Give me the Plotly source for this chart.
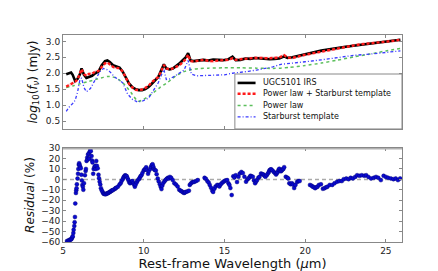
import plotly.graph_objects as go

# ---------------- data ----------------
obs_lam = [5.2, 5.35, 5.5, 5.6, 5.75, 5.9, 6.05, 6.15, 6.3, 6.45, 6.6, 6.8, 7.0, 7.2, 7.4, 7.6, 7.75, 7.9,
           8.1, 8.3, 8.5, 8.7, 8.9, 9.1, 9.3, 9.5, 9.7, 9.9, 10.1, 10.3, 10.5, 10.7, 10.9, 11.05, 11.25,
           11.4, 11.6, 11.8, 12.0, 12.2, 12.4, 12.6, 12.75, 12.9, 13.1, 13.4, 13.7, 14.0, 14.3, 14.6,
           14.9, 15.2, 15.5, 15.7, 16.0, 16.3, 16.6, 16.9, 17.2, 17.5, 17.8, 18.1, 18.4, 18.7, 18.9,
           19.2, 19.6, 20.0, 20.5, 21.0, 21.5, 22.0, 22.5, 23.0, 23.5, 24.0, 24.5, 25.0, 25.5, 25.9]
obs_flux = [1.97, 2.00, 2.02, 1.95, 1.76, 1.82, 1.97, 2.15, 1.95, 1.85, 1.88, 1.92, 2.00, 2.05, 2.25,
            2.38, 2.40, 2.35, 2.25, 2.21, 2.18, 2.05, 1.85, 1.67, 1.56, 1.50, 1.47, 1.47, 1.50, 1.57,
            1.67, 1.76, 1.88, 2.05, 2.28, 2.15, 2.12, 2.15, 2.22, 2.30, 2.40, 2.50, 2.63, 2.40, 2.38,
            2.40, 2.42, 2.40, 2.43, 2.42, 2.41, 2.43, 2.52, 2.41, 2.42, 2.46, 2.45, 2.48, 2.46, 2.45,
            2.44, 2.45, 2.46, 2.53, 2.48, 2.50, 2.55, 2.60, 2.66, 2.71, 2.75, 2.80, 2.83, 2.86, 2.89,
            2.92, 2.95, 2.98, 3.02, 3.05]

model_lam = obs_lam
model_flux = [1.58, 1.62, 1.65, 1.68, 1.73, 1.80, 2.01, 2.13, 1.97, 1.92, 1.98, 1.98, 2.05, 2.07, 2.20,
              2.31, 2.34, 2.29, 2.20, 2.17, 2.16, 2.05, 1.86, 1.66, 1.55, 1.48, 1.47, 1.49, 1.54, 1.60,
              1.72, 1.80, 1.88, 2.03, 2.26, 2.15, 2.12, 2.15, 2.20, 2.25, 2.34, 2.44, 2.58, 2.38, 2.37,
              2.40, 2.42, 2.39, 2.38, 2.40, 2.40, 2.42, 2.47, 2.42, 2.44, 2.46, 2.46, 2.48, 2.48, 2.47,
              2.47, 2.48, 2.49, 2.57, 2.49, 2.48, 2.54, 2.58, 2.63, 2.68, 2.73, 2.79, 2.83, 2.87, 2.91,
              2.93, 2.96, 2.99, 3.02, 3.05]
model_err = 0.05  # half-width of the pink uncertainty band (dex)

pl_lam = [5.2, 5.6, 6.0, 6.5, 7.0, 7.5, 7.8, 8.3, 8.8, 9.2, 9.65, 10.0, 10.5, 11.0, 11.5, 12.0, 12.5,
          13.0, 13.5, 14.0, 15.0, 16.0, 17.0, 18.0, 18.5, 19.0, 20.0, 21.0, 22.0, 23.0, 24.0, 25.0, 25.9]
pl_flux = [1.55, 1.60, 1.66, 1.73, 1.80, 1.87, 1.90, 1.85, 1.65, 1.40, 1.12, 1.18, 1.35, 1.55, 1.72,
           1.92, 2.05, 2.12, 2.15, 2.16, 2.17, 2.17, 2.16, 2.15, 2.16, 2.18, 2.24, 2.32, 2.41, 2.51,
           2.60, 2.70, 2.78]

sb_lam = [5.2, 5.4, 5.6, 5.75, 5.9, 6.05, 6.15, 6.3, 6.45, 6.7, 7.0, 7.3, 7.5, 7.7, 7.9, 8.2, 8.5, 8.7,
          9.0, 9.3, 9.6, 9.9, 10.3, 10.6, 10.9, 11.1, 11.25, 11.4, 11.6, 11.9, 12.2, 12.5, 12.75, 12.95,
          13.3, 14.0, 14.5, 15.0, 15.5, 16.0, 16.5, 17.0, 17.5, 18.0, 18.5, 19.0, 20.0, 21.0, 22.0,
          23.0, 24.0, 25.0, 25.9]
sb_flux = [0.80, 0.95, 1.05, 1.15, 1.40, 1.80, 1.85, 1.55, 1.42, 1.52, 1.80, 2.05, 2.15, 2.12, 2.05,
           1.88, 1.78, 1.70, 1.35, 1.18, 1.10, 1.12, 1.22, 1.45, 1.70, 1.95, 2.12, 1.80, 1.82, 1.90,
           2.00, 2.10, 2.40, 1.97, 1.92, 1.93, 1.93, 1.95, 2.00, 2.02, 2.06, 2.10, 2.15, 2.20, 2.28,
           2.30, 2.36, 2.42, 2.50, 2.56, 2.60, 2.65, 2.70]

res_lam = [5.25, 5.30, 5.35, 5.40, 5.45, 5.50, 5.53, 5.58, 5.60, 5.64, 5.66, 5.70, 5.72, 5.74, 5.76,
           5.80, 5.82, 5.84, 5.86, 5.90, 5.93, 5.95, 5.98, 6.00, 6.03, 6.07, 6.10, 6.14, 6.17, 6.20,
           6.23, 6.26, 6.30, 6.36, 6.40, 6.42, 6.46, 6.50, 6.53, 6.55, 6.60, 6.63, 6.67, 6.70, 6.72,
           6.77, 6.80, 6.83, 6.87, 6.90, 6.95, 7.00, 7.03, 7.06, 7.10, 7.15, 7.20, 7.23, 7.27, 7.31,
           7.35, 7.40, 7.45, 7.50, 7.55, 7.60, 7.65, 7.70, 7.75, 7.80, 7.85, 7.90, 7.95, 8.00, 8.05,
           8.10, 8.20, 8.25, 8.30, 8.40, 8.50, 8.57, 8.63, 8.70, 8.75, 8.80, 8.85, 8.90, 8.95, 9.00,
           9.05, 9.10, 9.15, 9.20, 9.25, 9.30, 9.35, 9.40, 9.45, 9.50, 9.57, 9.62, 9.70, 9.75, 9.80,
           9.86, 9.92, 10.00, 10.05, 10.10, 10.15, 10.20, 10.27, 10.32, 10.40, 10.45, 10.50, 10.55,
           10.60, 10.63, 10.68, 10.75, 10.80, 10.87, 10.93, 11.00, 11.05, 11.10, 11.15, 11.20, 11.28,
           11.35, 11.42, 11.50, 11.55, 11.62, 11.70, 11.80, 11.90, 12.00, 12.10, 12.20, 12.28, 12.35,
           12.42, 12.50, 12.55, 12.60, 12.70, 12.80, 12.85, 12.92, 13.00, 13.08, 13.15, 13.25, 13.35,
           13.77, 13.85, 13.94, 14.02, 14.09, 14.17, 14.25, 14.30, 14.38, 14.45, 14.55, 14.62, 14.69,
           14.76, 14.83, 14.92, 15.00, 15.08, 15.17, 15.25, 15.31, 15.37, 15.45, 15.55, 15.62, 15.70,
           15.78, 15.87, 15.95, 16.05, 16.14, 16.24, 16.34, 16.42, 16.49, 16.55, 16.61, 16.68, 16.76,
           16.83, 16.90, 16.96, 17.02, 17.10, 17.17, 17.27, 17.35, 17.42, 17.48, 17.54, 17.62, 17.69,
           17.75, 17.79, 17.85, 17.90, 17.98, 18.06, 18.13, 18.20, 18.25, 18.30, 18.35, 18.40, 18.45,
           18.50, 18.55, 18.60, 18.65, 18.70, 18.80, 18.90, 18.95, 19.02, 19.10, 19.18, 19.25, 19.32,
           19.40, 19.50, 19.58, 19.66, 20.30, 20.40, 20.47, 20.55, 20.62, 20.70, 20.77, 20.85, 20.98,
           21.10, 21.20, 21.30, 21.38, 21.52, 21.68, 21.82, 21.98, 22.12, 22.27, 22.39, 22.55, 22.69,
           22.82, 22.96, 23.10, 23.22, 23.37, 23.51, 23.67, 23.78, 23.92, 24.08, 24.25, 24.39, 24.53,
           24.69, 24.86, 25.00, 25.14, 25.31, 25.47, 25.61, 25.75, 25.88]
res_val = [-59, -59.5, -58.4, -58.5, -57.5, -57.5, -56.9, -55.5, -54.4, -51.3, -48.3, -44.6, -41, -36,
           -23.1, -13, -10.5, -8.4, -4.7, 0.8, 5.4, 10, 14, 15.5, 13.7, 12, 10.6, 4.5, -1, -5.3, -7,
           -9.9, -3.7, 4, 8, 10, 17.7, 20.8, 19, 23.9, 25, 19.9, 26.9, 29, 27, 22.3, 18, 16.2, 5.4,
           10, 12, 13, 10, 17.7, 13, 10.6, 4.5, 1, -2.2, -5, -8.4, -10.5, -12, -13.5, -14, -14,
           -14.3, -13.5, -13.5, -13, -12.5, -12, -11.5, -11, -10.5, -10.2, -9.2, -8.6, -8, -7, -5,
           -3.7, -1.5, 0.2, 2, 3, 3.9, 3.5, 3, 1, -0.7, -2.5, -3.7, -3, -2, -1.6, -3.5, -5, -7, -5,
           -2.8, -1, 0.2, 1.5, 3, 3.9, 6, 8.5, 9.5, 10, 11.6, 9, 5.4, 8, 10, 12, 13.7, 14.5, 12, 10,
           9, 8.5, 5, 0.8, -2, -4.7, -7, -9.3, -6, -3.7, -2, -0.7, 0.5, 1.5, 0.8, 2.4, 1.5, -0.7,
           -3.7, -5, -6.8, -9.9, -10.8, -11.4, -12.3, -13, -12.5, -12, -11.5, -10.8, -5.3, -4, -2.8,
           -2.5, -2.2, -1.5, -0.7, 1.5, 0.5, -1.6, -3, -5.3, -8, -10.8, -12, -8.9, -6.8, -5.3, -5.5,
           -6.8, -5, -3.7, -2.5, -1.6, -1, -0.7, -3.7, -5.3, -8.3, -15, 3, 1.9, 4, -2.5, 2.5, 5.6,
           7.1, 6, 2.5, -2.2, 0, 0.9, 2, 3.4, 3, 2.5, -1, -3.7, -2, -0.7, 1.5, 2.5, 5.6, 5, 4.6, 3.5,
           2.5, 4, 5.6, 7, 8.7, 9.5, 9.6, 8.5, 7.1, 6, 4.6, 6, 7.1, 9, 10.2, 8.5, 7.7, 8.5, 9.6, 10,
           11.7, 2.5, 1.6, 0.9, -3.7, -4.6, -3.7, -5, -8.3, -5.3, -2.5, -1.6, -1.6, -5.3, -6, -7,
           -7.5, -8.4, -7.5, -7, -5.3, -4.7, -9, -8.4, -7.6, -7, -5.3, -5.3, -3.7, -2.2, -1.6, -1.6,
           0.2, 0.9, 0.2, 1.5, 0.9, 2.4, 4, 3.4, 4, 3.4, 4, 2.4, 0.9, 1.5, 2.4, 1.5, -0.7, 3.4, 2.4,
           1.5, 0.9, 0.2, 0.9, -0.7, 0.9]

x_range = [5, 26]
x_ticks = [5, 10, 15, 20, 25]
top_y_range = [0.25, 3.2]
top_y_ticks = [0.5, 1.0, 1.5, 2.0, 2.5, 3.0]
res_y_range = [-60, 30]
res_y_ticks = [-60, -50, -40, -30, -20, -10, 0, 10, 20, 30]
zero_level = 0

legend_names = ["UGC5101 IRS", "Power law + Starburst template", "Power law", "Starburst template"]

# ---------------- styles ----------------
FONT = "DejaVu Sans"
FRAME = "#888888"
C_OBS = "black"
C_MOD = "#ff1a1a"
C_BAND = "rgba(255,120,140,0.30)"
C_PL = "#5cbf5c"
C_SB = "#3a3aff"
C_RES = "#0a0ad0"

SUB = '<span style="baseline-shift:-25%;font-size:8.5px">{}</span>'
ytitle_top = "<i>log</i>" + SUB.format("10") + "(<i>f</i>" + SUB.format("<i>ν</i>") + ") (mJy)"

fig = go.Figure()

# uncertainty band around the model
fig.add_trace(go.Scatter(x=model_lam, y=[v + model_err for v in model_flux], mode="lines",
                         line=dict(width=0), hoverinfo="skip", showlegend=False, xaxis="x", yaxis="y"))
fig.add_trace(go.Scatter(x=model_lam, y=[v - model_err for v in model_flux], mode="lines",
                         line=dict(width=0), fill="tonexty", fillcolor=C_BAND, hoverinfo="skip",
                         showlegend=False, xaxis="x", yaxis="y"))
fig.add_trace(go.Scatter(x=pl_lam, y=pl_flux, mode="lines", name=legend_names[2],
                         line=dict(color=C_PL, width=1.5, dash="dot", shape="spline", smoothing=0.6),
                         xaxis="x", yaxis="y"))
fig.add_trace(go.Scatter(x=sb_lam, y=sb_flux, mode="lines", name=legend_names[3],
                         line=dict(color=C_SB, width=1.3, dash="3px,2px,1px,2px"),
                         xaxis="x", yaxis="y"))
fig.add_trace(go.Scatter(x=obs_lam, y=obs_flux, mode="lines", name=legend_names[0],
                         line=dict(color=C_OBS, width=2.6), xaxis="x", yaxis="y"))
fig.add_trace(go.Scatter(x=model_lam, y=model_flux, mode="lines", name=legend_names[1],
                         line=dict(color=C_MOD, width=2.4, dash="3px,2px"), xaxis="x", yaxis="y"))

# residuals
fig.add_trace(go.Scatter(x=res_lam, y=res_val, mode="markers", name="Residual",
                         marker=dict(color=C_RES, size=4, line=dict(color="#000070", width=0.4)),
                         xaxis="x2", yaxis="y2", showlegend=False))

axis_common = dict(showline=True, linecolor=FRAME, linewidth=1, mirror="ticks", ticks="inside",
                   ticklen=3, tickcolor=FRAME, showgrid=False, zeroline=False,
                   tickfont=dict(family=FONT, size=9, color="#222"))

fig.update_layout(
    width=438, height=271,
    margin=dict(l=55, r=44, t=27, b=28),
    paper_bgcolor="white", plot_bgcolor="white",
    showlegend=False,
    font=dict(family=FONT, color="#111"),
    xaxis=dict(domain=[0, 1], range=x_range, tickvals=x_ticks, showticklabels=False,
               anchor="y", **axis_common),
    yaxis=dict(domain=[0.546, 1.0], range=top_y_range, tickvals=top_y_ticks, tickformat=".1f",
               anchor="x",
               title=dict(text=ytitle_top, font=dict(family=FONT, size=12), standoff=5),
               **axis_common),
    xaxis2=dict(domain=[0, 1], range=x_range, tickvals=x_ticks, anchor="y2",
                title=dict(text="Rest-frame Wavelength (<i>μ</i>m)", font=dict(family=FONT, size=13),
                           standoff=2),
                **axis_common),
    yaxis2=dict(domain=[0, 0.4537], range=res_y_range, tickvals=res_y_ticks, anchor="x2",
                title=dict(text="<i>Residual</i> (%)", font=dict(family=FONT, size=12), standoff=3),
                **axis_common),
)

# zero reference line and heavier top edge of the residual panel
fig.add_shape(type="line", xref="x2 domain", yref="y2", x0=0, x1=1, y0=zero_level, y1=zero_level,
              line=dict(color="#aaaaaa", width=1.5, dash="4px,3px"), layer="below")
fig.add_shape(type="line", xref="x2 domain", yref="y2", x0=0, x1=1, y0=res_y_range[1], y1=res_y_range[1],
              line=dict(color="#b0b0b0", width=3))

# ---------------- hand-drawn legend (matplotlib style box) ----------------
fig.add_shape(type="rect", xref="x domain", yref="y domain", x0=0.507, x1=1.0, y0=0.0, y1=0.585,
              line=dict(color=FRAME, width=1), fillcolor="white", layer="above")
leg_rows = [0.49, 0.375, 0.25, 0.128]
leg_styles = [dict(color=C_OBS, width=2.6), dict(color=C_MOD, width=2.4, dash="3px,2px"),
              dict(color=C_PL, width=1.5, dash="dot"), dict(color=C_SB, width=1.3, dash="3px,2px,1px,2px")]
for name, yrow, sty in zip(legend_names, leg_rows, leg_styles):
    fig.add_shape(type="line", xref="x domain", yref="y domain", x0=0.515, x1=0.568, y0=yrow, y1=yrow,
                  line=sty, layer="above")
    fig.add_annotation(xref="x domain", yref="y domain", x=0.585, y=yrow, text=name, showarrow=False,
                       xanchor="left", yanchor="middle", font=dict(family=FONT, size=8, color="#111"))

fig.write_html("out.html")
